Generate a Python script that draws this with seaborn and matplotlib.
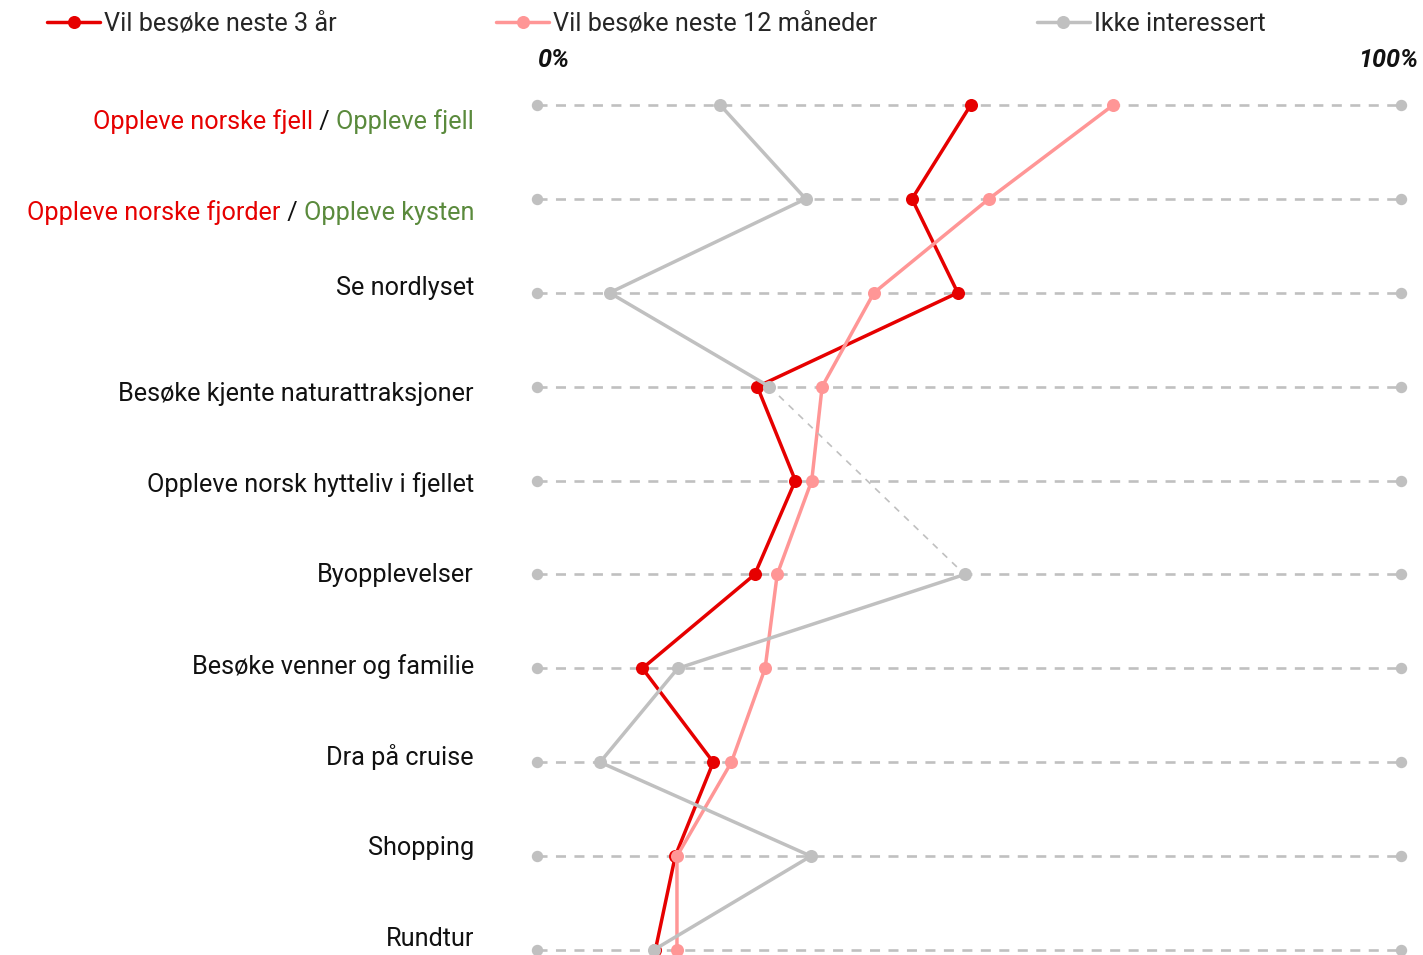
import numpy as np
import pandas as pd
import matplotlib
matplotlib.use("Agg")
import matplotlib.pyplot as plt
import matplotlib.transforms as mtransforms
from matplotlib.lines import Line2D
import seaborn as sns

# data (percent)
categories = ["Oppleve norske fjell / Oppleve fjell",
              "Oppleve norske fjorder / Oppleve kysten",
              "Se nordlyset",
              "Besøke kjente naturattraksjoner",
              "Oppleve norsk hytteliv i fjellet",
              "Byopplevelser",
              "Besøke venner og familie",
              "Dra på cruise",
              "Shopping",
              "Rundtur"]
three_years = [50.2, 43.4, 48.7, 25.5, 29.9, 25.2, 12.2, 20.4, 16.0, 13.7]
twelve_months = [66.7, 52.3, 39.0, 33.0, 31.8, 27.8, 26.4, 22.5, 16.2, 16.2]
not_interested = [21.2, 31.1, 8.4, 26.9, np.nan, 49.5, 16.3, 7.3, 31.7, 13.5]
series_names = ["Vil besøke neste 3 år", "Vil besøke neste 12 måneder", "Ikke interessert"]
axis_labels = ["0%", "100%"]

RED = "#e60000"
PINK = "#ff9696"
GRAY = "#c0c0c0"
GREEN = "#5a8a3c"
INK = "#111111"
FS = 18.2

sns.set_style("white")
plt.rcParams["font.family"] = ["Roboto", "DejaVu Sans"]

W, H = 1423, 955
fig = plt.figure(figsize=(W / 100, H / 100), dpi=100)
ax = fig.add_axes([537 / W, 1 - 950 / H, (1401 - 537) / W, (950 - 105) / H])
ax.set_xlim(0, 100)
ax.set_ylim(len(categories) - 1, 0)
ax.axis("off")

rows = np.arange(len(categories))

# dashed guide lines with end dots
for r in rows:
    ax.plot([0, 100], [r, r], color=GRAY, lw=1.9, dashes=(3.8, 3.2), zorder=1, clip_on=False)
    ax.plot([0, 100], [r, r], ls="none", marker="o", ms=7.2, color=GRAY, zorder=1, clip_on=False)

df = pd.DataFrame({"row": rows, "r3": three_years, "r12": twelve_months, "ni": not_interested})


def draw_series(col, color, z):
    d = df[["row", col]].copy()
    valid = d[col].notna()
    grp = (valid != valid.shift()).cumsum()
    for _, seg in d[valid].groupby(grp[valid]):
        sns.lineplot(data=seg, x=col, y="row", orient="y", sort=False, estimator=None,
                     color=color, lw=2.5, marker="o", markersize=9.4, markeredgewidth=0,
                     ax=ax, zorder=z, clip_on=False)
    # thin dashed connector across missing values
    idx = d.index[valid].to_numpy()
    for a, b in zip(idx[:-1], idx[1:]):
        if b - a > 1:
            ax.plot(d.loc[[a, b], col], d.loc[[a, b], "row"], color=color, lw=1.2,
                    dashes=(4, 4), zorder=z - 0.5, clip_on=False)


draw_series("r3", RED, 3)
draw_series("r12", PINK, 4)
draw_series("ni", GRAY, 5)

# row labels, right aligned left of the plot
fig.canvas.draw()
renderer = fig.canvas.get_renderer()
label_trans = mtransforms.blended_transform_factory(mtransforms.IdentityTransform(), ax.transData)
row_px = (950 - 105) / (len(categories) - 1)
label_offsets_px = [17, 14, -5, 7, 4, 1, -2, -5, -8, -11]
for r, (name, off) in enumerate(zip(categories, label_offsets_px)):
    parts = name.split(" / ")
    if len(parts) == 2:
        pieces = [(parts[0], RED), (" / ", INK), (parts[1], GREEN)]
    else:
        pieces = [(name, INK)]
    x = 474
    for s, c in reversed(pieces):
        t = ax.text(x, r + off / row_px, s, color=c, fontsize=FS, ha="right", va="center",
                    transform=label_trans, clip_on=False)
        x = t.get_window_extent(renderer).x0

# 0% / 100% labels
fig.text(537 / W, 1 - 60 / H, axis_labels[0], fontsize=FS, fontweight="bold", style="italic",
         ha="left", va="center", color=INK)
fig.text(1418 / W, 1 - 60 / H, axis_labels[1], fontsize=FS, fontweight="bold", style="italic",
         ha="right", va="center", color=INK)

# legend
handles = [Line2D([], [], color=c, lw=2.5, marker="o", markersize=9.4, markeredgewidth=0)
           for c in (RED, PINK, GRAY)]
fig.legend(handles, series_names, loc="upper left", bbox_to_anchor=(47 / W, 1 - 12 / H),
           ncol=3, frameon=False, fontsize=FS, handlelength=2.1, handletextpad=0.16,
           columnspacing=6.3, borderpad=0, borderaxespad=0, numpoints=1)

fig.savefig("out.png", dpi=100)
